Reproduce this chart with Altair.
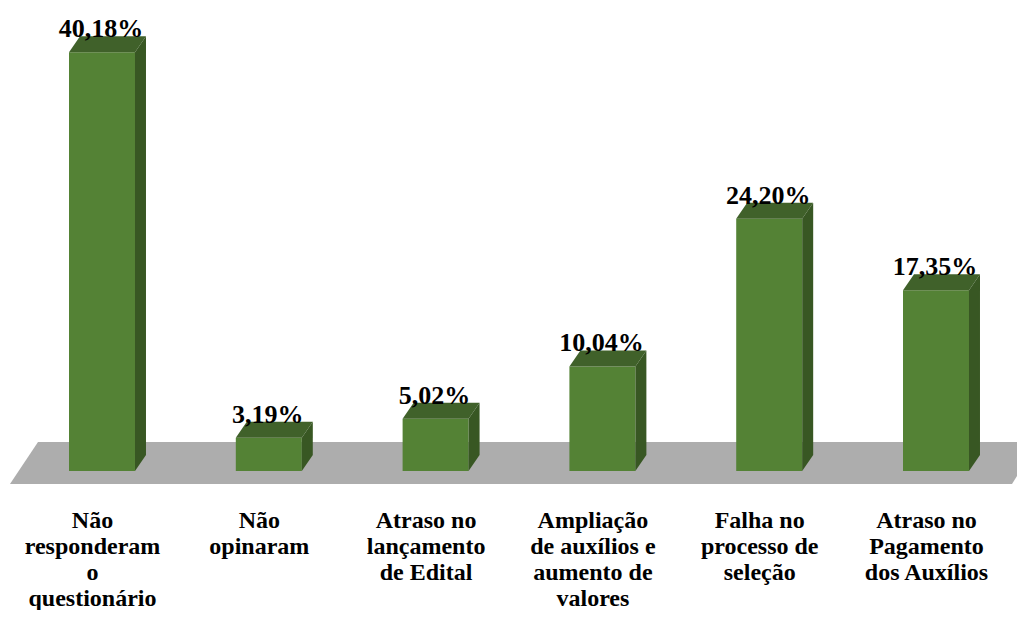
import json
import altair as alt
import pandas as pd

# ---- data ----
categories = [
    "Não|responderam|o|questionário",
    "Não|opinaram",
    "Atraso no|lançamento|de Edital",
    "Ampliação|de auxílios e|aumento de|valores",
    "Falha no|processo de|seleção",
    "Atraso no|Pagamento|dos Auxílios",
]
values = [40.18, 3.19, 5.02, 10.04, 24.20, 17.35]
value_labels = ["40,18%", "3,19%", "5,02%", "10,04%", "24,20%", "17,35%"]

# ---- 3D look (in scale units) ----
HALF = 0.1978   # half bar width (category units)
DX = 0.0659     # depth shift, x
DY = 1.535      # depth shift, y (percent units)

FRONT = "#548235"
TOP = "#40612A"
SIDE = "#385723"
FLOOR = "#ADADAD"
FONT_V = "Times New Roman"
FONT_L = "serif"

front_rows, top_rows, side_rows, text_rows = [], [], [], []
for i, v in enumerate(values):
    front_rows.append({"i": i, "x0": i - HALF, "x1": i + HALF, "v": v, "z": 0.0})
    top_rows.append({"i": i, "y": v, "xl": i - HALF, "xr": i + HALF})
    top_rows.append({"i": i, "y": v + DY, "xl": i - HALF + DX, "xr": i + HALF + DX})
    side_rows.append({"i": i, "x": i + HALF, "yt": v, "yb": 0.0})
    side_rows.append({"i": i, "x": i + HALF + DX, "yt": v + DY, "yb": DY})
    text_rows.append({"i": i, "y": v + DY, "lab": value_labels[i]})

floor_rows = [
    {"y": -1.248, "xl": -0.5516, "xr": 5.4556},
    {"y": 2.783, "xl": -0.3837, "xr": 5.6115},
]

xscale = alt.Scale(domain=[-0.56355, 5.48561], nice=False, zero=False)
yscale = alt.Scale(domain=[-2.399, 44.434], nice=False, zero=False)

label_expr = "split(" + json.dumps(categories, ensure_ascii=False) + "[datum.value], '|')"
xaxis = alt.Axis(
    values=[0, 1, 2, 3, 4, 5],
    labelExpr=label_expr,
    labelFont=FONT_L,
    labelFontSize=24,
    labelFontWeight="bold",
    labelColor="black",
    labelLineHeight=26,
    labelPadding=31,
    labelBaseline="alphabetic",
    labelOffset=-10,
    labelOverlap=False,
    labelBound=False,
    labelFlush=False,
    labelLimit=400,
    ticks=False,
    domain=False,
    grid=False,
    title=None,
)

floor = alt.Chart(pd.DataFrame(floor_rows)).mark_area(
    orient="horizontal", color=FLOOR, clip=True
).encode(
    y=alt.Y("y:Q", scale=yscale, axis=None),
    x=alt.X("xl:Q", scale=xscale, axis=xaxis),
    x2="xr:Q",
)

front = alt.Chart(pd.DataFrame(front_rows)).mark_rect(color=FRONT).encode(
    x=alt.X("x0:Q", scale=xscale, axis=xaxis),
    x2="x1:Q",
    y=alt.Y("v:Q", scale=yscale, axis=None),
    y2="z:Q",
)

top = alt.Chart(pd.DataFrame(top_rows)).mark_area(orient="horizontal", color=TOP).encode(
    y=alt.Y("y:Q", scale=yscale, axis=None),
    x=alt.X("xl:Q", scale=xscale, axis=xaxis),
    x2="xr:Q",
    detail="i:N",
)

side = alt.Chart(pd.DataFrame(side_rows)).mark_area(color=SIDE).encode(
    x=alt.X("x:Q", scale=xscale, axis=xaxis),
    y=alt.Y("yt:Q", scale=yscale, axis=None),
    y2="yb:Q",
    detail="i:N",
)

text = alt.Chart(pd.DataFrame(text_rows)).mark_text(
    font=FONT_V, fontSize=26, fontWeight="bold", color="black",
    baseline="alphabetic", align="center", dx=-1, dy=1,
).encode(
    x=alt.X("i:Q", scale=xscale, axis=xaxis),
    y=alt.Y("y:Q", scale=yscale, axis=None),
    text="lab:N",
)

chart = alt.layer(floor, front, top, side, text).properties(
    width=1009,
    height=488,
    padding={"left": 0, "top": 0, "right": 0, "bottom": 114},
    autosize=alt.AutoSizeParams(type="none"),
    background="white",
).configure_view(stroke=None, strokeWidth=0)

chart.save("out.html", embed_options={"renderer": "svg", "actions": False})
